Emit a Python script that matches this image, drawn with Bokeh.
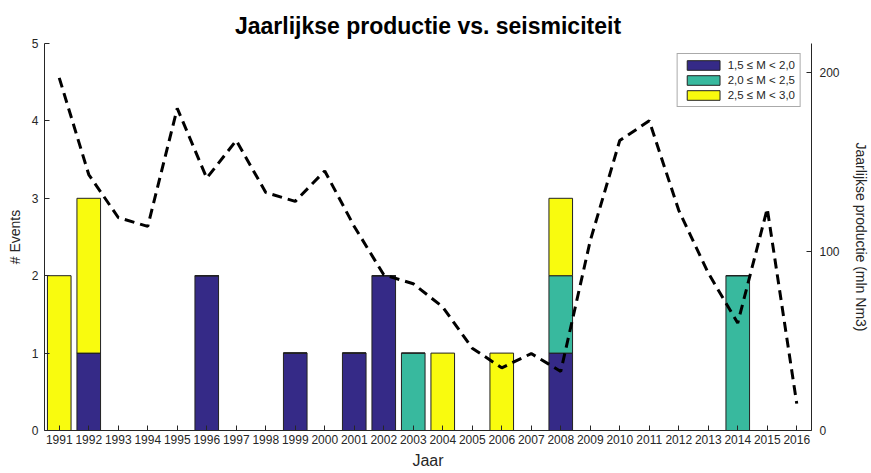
from bokeh.plotting import figure
from bokeh.models import Range1d, LinearAxis, FixedTicker, ColumnDataSource, Legend, LegendItem
from bokeh.embed import file_html
from bokeh.resources import INLINE

years = list(range(1991, 2017))
m15_20 = [0, 1, 0, 0, 0, 2, 0, 0, 1, 0, 1, 2, 0, 0, 0, 0, 0, 1, 0, 0, 0, 0, 0, 0, 0, 0]
m20_25 = [0, 0, 0, 0, 0, 0, 0, 0, 0, 0, 0, 0, 1, 0, 0, 0, 0, 1, 0, 0, 0, 0, 0, 2, 0, 0]
m25_30 = [2, 2, 0, 0, 0, 0, 0, 0, 0, 0, 0, 0, 0, 1, 0, 1, 0, 1, 0, 0, 0, 0, 0, 0, 0, 0]
production = [197, 143, 119, 114, 180, 141, 162, 133, 128, 145, 114, 87, 82, 69, 46,
              35, 43, 33, 106, 162, 173, 123, 88, 60, 124, 15]
labels = ["1,5 \u2264 M < 2,0", "2,0 \u2264 M < 2,5", "2,5 \u2264 M < 3,0"]
colors = ["#352A87", "#38B99E", "#F9FB0E"]

FONT = "Liberation Sans"
TXT = "#262626"

src = ColumnDataSource(dict(year=years, a=m15_20, b=m20_25, c=m25_30, prod=production))

p = figure(width=871, height=473, output_backend="svg", toolbar_location=None,
           x_range=Range1d(1990.5, 2016.5), y_range=Range1d(0, 5),
           min_border_left=44, min_border_right=59, min_border_top=43, min_border_bottom=43)
p.extra_y_ranges = {"prod": Range1d(0, 216.2)}

rs = p.vbar_stack(["a", "b", "c"], x="year", width=0.8, source=src, color=colors,
                  line_color="#222222", line_width=1)
for r, c in zip(rs, colors):
    r.glyph.fill_color = c
    r.glyph.line_color = "#222222"

p.line("year", "prod", source=src, y_range_name="prod", line_color="black",
       line_width=3, line_dash="10 6")

p.title.text = "Jaarlijkse productie vs. seismiciteit"
p.title.align = "center"
p.title.text_font = FONT
p.title.text_font_size = "23px"
p.title.text_font_style = "bold"
p.title.text_color = "black"

p.xgrid.visible = False
p.ygrid.visible = False
p.outline_line_color = None

xa = p.xaxis[0]
xa.ticker = FixedTicker(ticks=years)
xa.axis_label = "Jaar"
ya = p.yaxis[0]
ya.ticker = FixedTicker(ticks=[0, 1, 2, 3, 4, 5])
ya.axis_label = "# Events"

ra = LinearAxis(y_range_name="prod", ticker=FixedTicker(ticks=[0, 100, 200]),
                axis_label="Jaarlijkse productie (mln Nm3)")
p.add_layout(ra, "right")

for ax in (xa, ya, ra):
    ax.major_tick_in = 5
    ax.major_tick_out = 0
    ax.minor_tick_in = 0
    ax.minor_tick_out = 0
    ax.axis_line_color = TXT
    ax.major_tick_line_color = TXT
    ax.major_label_text_font = FONT
    ax.major_label_text_font_size = "12px"
    ax.major_label_text_color = TXT
    ax.axis_label_text_font = FONT
    ax.axis_label_text_font_style = "normal"
    ax.axis_label_text_color = TXT
    ax.axis_label_text_font_size = "14px"
    ax.major_label_standoff = 6
    ax.axis_label_standoff = 6
xa.axis_label_text_font_size = "16px"
xa.axis_label_standoff = 5
xa.major_label_standoff = 4
ra.major_label_standoff = 8
ra.axis_label_standoff = 10

legend = Legend(items=[LegendItem(label=l, renderers=[r]) for l, r in zip(labels, rs)],
                location="top_right", margin=10, padding=5, spacing=3,
                glyph_width=41, glyph_height=12, label_height=12, label_standoff=4,
                label_text_font=FONT, label_text_font_size="11.5px", label_text_color=TXT,
                border_line_color="#555555", border_line_width=1, background_fill_alpha=1)
p.add_layout(legend)

open("out.html", "w").write(file_html(p, INLINE))
